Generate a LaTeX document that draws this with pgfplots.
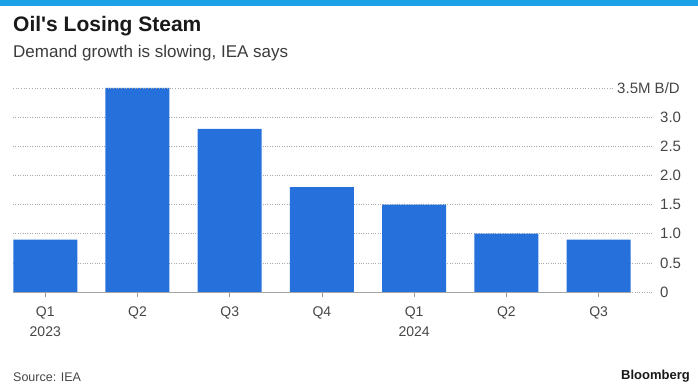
\documentclass[border=0pt]{standalone}
\usepackage{pgfplots}
\pgfplotsset{compat=1.18}
\usepackage{fontspec}
\setmainfont{Liberation Sans}
\newfontfamily\plainsans{Liberation Sans}
\definecolor{barblue}{RGB}{38,112,220}
\definecolor{topband}{RGB}{28,160,230}
\definecolor{txt}{RGB}{25,25,25}
\definecolor{ticktxt}{RGB}{70,70,70}
\definecolor{gridc}{RGB}{170,170,170}
\begin{document}
\begin{tikzpicture}[x=1pt,y=1pt]
\path[use as bounding box] (0,0) rectangle (698,385);
\fill[topband] (0,379) rectangle (698,385);
\node[anchor=base west, font=\plainsans\fontsize{21}{24}\selectfont\bfseries, text=txt, inner sep=0] at (13,353) {Oil's Losing Steam};
\node[anchor=base west, font=\fontsize{17}{20}\selectfont, text=txt!85, inner sep=0] at (13,327) {Demand growth is slowing, IEA says};
\node[anchor=base west, font=\fontsize{12.5}{15}\selectfont, text=ticktxt, inner sep=0] at (13,3) {Source: IEA};
\node[anchor=base east, font=\fontsize{13}{15}\selectfont\bfseries, text=txt, inner sep=0] at (690,5) {Bloomberg};
\begin{axis}[
  at={(13pt,93pt)}, anchor=south west,
  scale only axis, width=640pt, height=204pt,
  xmin=-0.35, xmax=6.59, ymin=0, ymax=3.5,
  axis line style={draw=none},
  clip=false,
  xtick={0,1,2,3,4,5,6},
  xticklabels={{Q1\\2023},Q2,Q3,Q4,{Q1\\2024},Q2,Q3},
  xtick pos=bottom, xtick align=outside,
  major tick length=5pt,
  xtick style={draw=gray!80, line width=0.8pt},
  xticklabel style={align=center, font=\fontsize{14}{20}\selectfont, text=ticktxt, yshift=-6pt},
  ytick={0,0.5,1,1.5,2,2.5,3},
  yticklabels={0,0.5,1.0,1.5,2.0,2.5,3.0},
  yticklabel pos=right,
  ytick style={draw=none},
  yticklabel style={anchor=west, inner sep=0pt, xshift=7pt, font=\fontsize{15}{18}\selectfont, text=ticktxt},
  ymajorgrids, major grid style={dotted, draw=gridc, line width=0.7pt},
]
\addplot[ybar, bar width=64pt, fill=barblue, draw=none] coordinates {(0,0.9)(1,3.5)(2,2.8)(3,1.8)(4,1.5)(5,1.0)(6,0.9)};
\draw[dotted, draw=gridc, line width=0.7pt] (axis cs:-0.35,3.5) -- (axis cs:6.17,3.5);
\draw[gray!70, line width=0.8pt] (axis cs:-0.35,0) -- (axis cs:6.35,0);
\node[anchor=west, inner sep=0pt, font=\fontsize{15}{18}\selectfont, text=ticktxt] at (axis cs:6.2,3.5) {3.5M B/D};
\end{axis}
\end{tikzpicture}
\end{document}
